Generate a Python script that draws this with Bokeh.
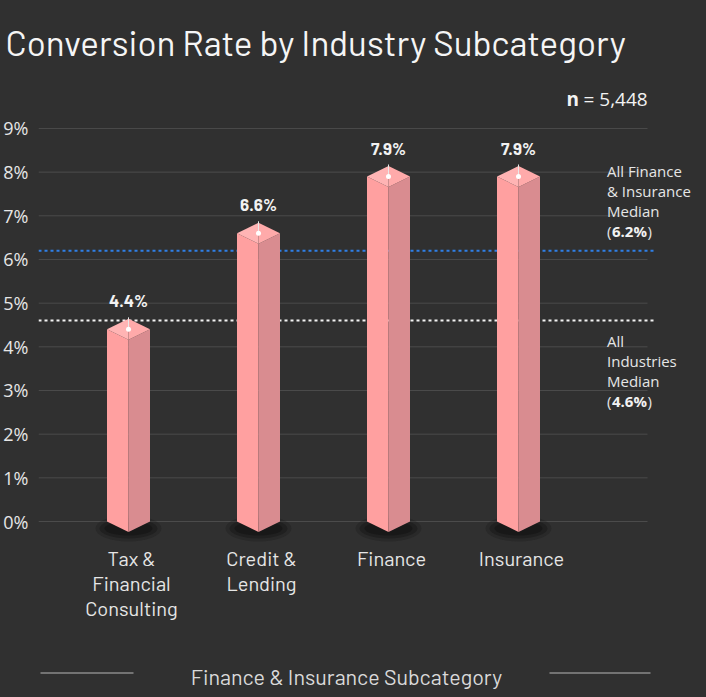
from bokeh.plotting import figure
from bokeh.models import Label, Range1d, FixedTicker, PrintfTickFormatter, ColumnDataSource
from bokeh.core.properties import value
from bokeh.embed import file_html
from bokeh.resources import INLINE

# ---------------- data ----------------
categories = ["Tax &\nFinancial\nConsulting", "Credit &\nLending", "Finance", "Insurance"]
conversion_rate = [4.4, 6.6, 7.9, 7.9]          # % per subcategory
finance_insurance_median = 6.2                   # %
all_industries_median = 4.6                      # %
y_ticks = [0, 1, 2, 3, 4, 5, 6, 7, 8, 9]
sample_size = "5,448"

# ---------------- layout helpers (pixel -> data) ----------------
W, H = 706, 697
FRAME_L, FRAME_T = 38, 70
GRID_R = 647
PX_PER_X = 130.0          # px per category step
X0_PX = 128.0             # px of first category
PX_PER_PCT = 43.67
ZERO_PY = 521.0

def X(px):
    return (px - X0_PX) / PX_PER_X

def Y(py):
    return (ZERO_PY - py) / PX_PER_PCT

BG = "#303030"
p = figure(width=W, height=H, output_backend="svg", toolbar_location=None,
           x_range=Range1d(X(FRAME_L), X(W)), y_range=Range1d(Y(H), Y(FRAME_T)),
           min_border_left=FRAME_L, min_border_right=0,
           min_border_top=FRAME_T, min_border_bottom=0,
           title="Conversion Rate by Industry Subcategory")
p.styles = {"background-color": BG}
p.background_fill_color = BG
p.border_fill_color = BG
p.outline_line_color = None
p.xaxis.visible = False
p.xgrid.visible = False
p.ygrid.visible = False

p.title.text_font = "Barlow"
p.title.text_font_size = "35px"
p.title.text_font_style = "normal"
p.title.text_color = "#f5f5f5"
p.title.align = "left"
p.title.offset = -33
p.title.standoff = 16

yax = p.yaxis[0]
yax.ticker = FixedTicker(ticks=y_ticks)
yax.formatter = PrintfTickFormatter(format="%d%%")
yax.axis_line_color = None
yax.major_tick_line_color = None
yax.minor_tick_line_color = None
yax.major_tick_out = 0
yax.major_tick_in = 0
yax.minor_tick_out = 0
yax.minor_tick_in = 0
yax.major_label_standoff = 10
yax.major_label_text_font = "Open Sans"
yax.major_label_text_font_size = "18px"
yax.major_label_text_color = "#e6e6e6"

# horizontal grid lines at the y ticks (stop before the note column)
p.segment(x0=[X(FRAME_L)] * len(y_ticks), y0=y_ticks, x1=[X(GRID_R)] * len(y_ticks), y1=y_ticks,
          line_color="#4b4b4b", line_width=1)

# ---------------- median lines ----------------
xs_line = [X(FRAME_L), X(653)]
p.line(xs_line, [all_industries_median] * 2, line_color="#f2f2f2", line_width=2, line_dash="3 3")
p.line(xs_line, [finance_insurance_median] * 2, line_color="#2f7fe6", line_width=2, line_dash="3 3")

# ---------------- 3D-ish bars ----------------
hw = 21.5 / PX_PER_X      # half width of bar
dd = 10.5 / PX_PER_PCT    # depth of isometric cap / base
idx = list(range(len(categories)))

# shadows under the bars
for w_px, h_px, a in [(66, 26, 0.25), (58, 20, 0.4), (48, 14, 0.6)]:
    p.ellipse(x=idx, y=[Y(528)] * len(idx), width=w_px, height=h_px,
              width_units="screen", height_units="screen",
              fill_color="#141414", fill_alpha=a, line_color=None)

left_xs, left_ys, right_xs, right_ys, capl_xs, capl_ys, capr_xs, capr_ys = [], [], [], [], [], [], [], []
for i, v in zip(idx, conversion_rate):
    left_xs.append([i - hw, i - hw, i, i])
    left_ys.append([v, 0, -dd, v - dd])
    right_xs.append([i, i, i + hw, i + hw])
    right_ys.append([v - dd, -dd, 0, v])
    capl_xs.append([i - hw, i, i])
    capl_ys.append([v, v + dd, v - dd])
    capr_xs.append([i, i + hw, i])
    capr_ys.append([v + dd, v, v - dd])

p.patches(left_xs, left_ys, fill_color="#ffa0a0", line_color=None)
p.patches(right_xs, right_ys, fill_color="#d98c90", line_color=None)
p.patches(capl_xs, capl_ys, fill_color="#ffb4b4", line_color=None)
p.patches(capr_xs, capr_ys, fill_color="#ffaaaa", line_color=None)

# marker pin and dot on top of each bar
tick_len = 12 / PX_PER_PCT
p.segment(x0=idx, y0=conversion_rate, x1=idx, y1=[v + tick_len for v in conversion_rate],
          line_color="#e8e8e8", line_width=1)
p.scatter(x=idx, y=conversion_rate, size=5, fill_color="white", line_color=None)

# value labels
src = ColumnDataSource(dict(x=idx, y=[v + 29 / PX_PER_PCT for v in conversion_rate],
                            t=[f"{v:.1f}%" for v in conversion_rate]))
p.text(x="x", y="y", text="t", source=src, text_align="center", text_baseline="alphabetic",
       text_font=value("Barlow"), text_font_style="bold", text_font_size="17px", text_color="#f2f2f2")

# category labels
p.text(x=[i + 3 / PX_PER_X for i in idx], y=[Y(545)] * len(idx), text=categories,
       text_align="center", text_baseline="top",
       text_font=value("Barlow"), text_font_size="20px", text_color="#e6e6e6", text_line_height=1.06)

# bottom axis title with side rules
p.text(x=[X(346)], y=[Y(675)], text=["Finance & Insurance Subcategory"], text_align="center",
       text_baseline="alphabetic", text_font=value("Barlow"), text_font_size="21.5px", text_color="#d9d9d9")
p.segment(x0=[X(40), X(549)], y0=[Y(672.5)] * 2, x1=[X(133), X(650)], y1=[Y(672.5)] * 2,
          line_color="#8a8a8a", line_width=1.5)

# ---------------- texts ----------------
p.add_layout(Label(x=X(566), y=Y(98), text="n", text_font="Open Sans", text_font_style="bold",
                   text_font_size="19px", text_color="#f2f2f2", text_baseline="alphabetic"))
p.add_layout(Label(x=X(583), y=Y(98), text="= " + sample_size, text_font="Open Sans",
                   text_font_size="19px", text_color="#f2f2f2", text_baseline="alphabetic"))

def note(lines, pct, base_py):
    for k, line in enumerate(lines):
        p.add_layout(Label(x=X(606.5), y=Y(base_py + 20 * k), text=line, text_font="Open Sans",
                           text_font_size="15px", text_color="#e6e6e6", text_baseline="alphabetic"))
    yb = Y(base_py + 20 * len(lines))
    p.add_layout(Label(x=X(606.5), y=yb, text="(", text_font="Open Sans", text_font_size="15px",
                       text_color="#e6e6e6", text_baseline="alphabetic"))
    p.add_layout(Label(x=X(611.5), y=yb, text=f"{pct:.1f}%", text_font="Open Sans",
                       text_font_style="bold", text_font_size="15px", text_color="#f2f2f2",
                       text_baseline="alphabetic"))
    p.add_layout(Label(x=X(647), y=yb, text=")", text_font="Open Sans", text_font_size="15px",
                       text_color="#e6e6e6", text_baseline="alphabetic"))

note(["All Finance", "& Insurance", "Median"], finance_insurance_median, 170.5)
note(["All", "Industries", "Median"], all_industries_median, 340.5)

open("out.html", "w").write(file_html(p, INLINE))
